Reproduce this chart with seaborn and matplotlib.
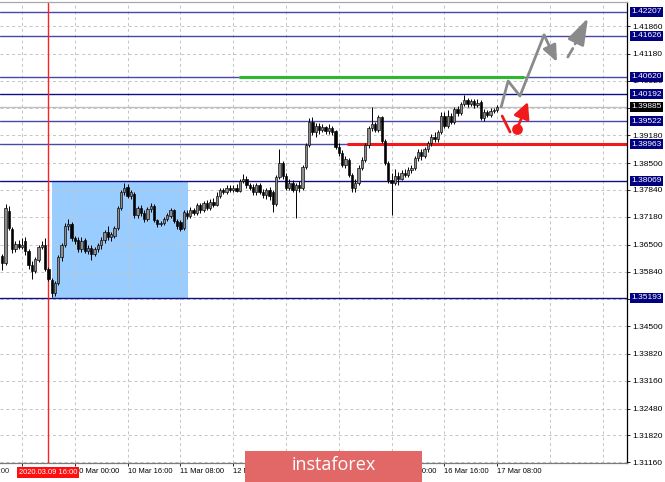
import matplotlib
matplotlib.use('Agg')
import matplotlib.pyplot as plt
import seaborn as sns
import numpy as np
import pandas as pd
from matplotlib.patches import Rectangle

# ---- candle data (H1 bars, index in hours from 9 Mar 08:00) ----
bar_hours = list(range(-6, 145))
opens = [
    1.3622, 1.3606, 1.3733, 1.3688, 1.3640, 1.3652,
    1.3645, 1.3660, 1.3635, 1.3600, 1.3585, 1.3612, 1.3645, 1.3650, 1.3590, 1.3563,
    1.3532, 1.3556, 1.3620, 1.3650, 1.3695, 1.3700, 1.3665, 1.3662, 1.3638, 1.3662,
    1.3635, 1.3642, 1.3628, 1.3640, 1.3648, 1.3662, 1.3680, 1.3668, 1.3670, 1.3690,
    1.3740, 1.3780, 1.3792, 1.3770, 1.3775, 1.3722, 1.3740, 1.3728, 1.3712, 1.3738,
    1.3744, 1.3710, 1.3700, 1.3702, 1.3712, 1.3720, 1.3735, 1.3708, 1.3705, 1.3690,
    1.3728, 1.3720, 1.3735, 1.3728, 1.3746, 1.3735, 1.3752, 1.3740, 1.3755, 1.3748,
    1.3770, 1.3785, 1.3780, 1.3790, 1.3784, 1.3790, 1.3782, 1.3805, 1.3812, 1.3795,
    1.3792, 1.3778, 1.3795, 1.3780, 1.3772, 1.3785, 1.3780, 1.3750, 1.3815, 1.3850,
    1.3818, 1.3790, 1.3800, 1.3785, 1.3795, 1.3790, 1.3840, 1.3895, 1.3950, 1.3925,
    1.3940, 1.3930, 1.3938, 1.3928, 1.3935, 1.3928, 1.3890, 1.3875, 1.3845, 1.3858,
    1.3820, 1.3790, 1.3800, 1.3838, 1.3858, 1.3895, 1.3935, 1.3945, 1.3930, 1.3962,
    1.3905, 1.3850, 1.3808, 1.3800, 1.3818, 1.3812, 1.3825, 1.3820, 1.3832, 1.3838,
    1.3862, 1.3878, 1.3868, 1.3885, 1.3898, 1.3915, 1.3908, 1.3925, 1.3965, 1.3940,
    1.3965, 1.3950, 1.3982, 1.3972, 1.3995, 1.4005, 1.3995, 1.4002, 1.3992, 1.4000,
    1.3960, 1.3975, 1.3968, 1.3978, 1.3980,
]
highs = [
    1.3626, 1.3750, 1.3745, 1.3692, 1.3660, 1.3662,
    1.3665, 1.3668, 1.3640, 1.3610, 1.3620, 1.3650, 1.3660, 1.3665, 1.3595, 1.3568,
    1.3560, 1.3625, 1.3655, 1.3702, 1.3712, 1.3705, 1.3672, 1.3668, 1.3668, 1.3665,
    1.3650, 1.3650, 1.3645, 1.3655, 1.3668, 1.3685, 1.3695, 1.3680, 1.3695, 1.3745,
    1.3785, 1.3800, 1.3798, 1.3785, 1.3780, 1.3745, 1.3748, 1.3735, 1.3742, 1.3752,
    1.3750, 1.3712, 1.3708, 1.3718, 1.3728, 1.3740, 1.3738, 1.3712, 1.3710, 1.3735,
    1.3735, 1.3742, 1.3740, 1.3752, 1.3752, 1.3758, 1.3760, 1.3762, 1.3765, 1.3778,
    1.3790, 1.3790, 1.3795, 1.3795, 1.3796, 1.3798, 1.3812, 1.3822, 1.3818, 1.3800,
    1.3798, 1.3800, 1.3800, 1.3786, 1.3790, 1.3792, 1.3785, 1.3820, 1.3885, 1.3855,
    1.3825, 1.3812, 1.3808, 1.3800, 1.3805, 1.3845, 1.3900, 1.3960, 1.3962, 1.3948,
    1.3948, 1.3945, 1.3942, 1.3945, 1.3942, 1.3932, 1.3900, 1.3882, 1.3868, 1.3862,
    1.3825, 1.3810, 1.3845, 1.3865, 1.3900, 1.3940, 1.3988, 1.3950, 1.3968, 1.3965,
    1.3910, 1.3855, 1.3825, 1.3835, 1.3828, 1.3832, 1.3835, 1.3840, 1.3845, 1.3868,
    1.3885, 1.3885, 1.3890, 1.3905, 1.3922, 1.3925, 1.3932, 1.3975, 1.3975, 1.3980,
    1.3972, 1.3988, 1.3990, 1.4000, 1.4017, 1.4010, 1.4008, 1.4006, 1.4008, 1.4005,
    1.3982, 1.3980, 1.3984, 1.3986, 1.3992,
]
lows = [
    1.3588, 1.3600, 1.3685, 1.3630, 1.3632, 1.3640,
    1.3640, 1.3625, 1.3590, 1.3565, 1.3580, 1.3608, 1.3640, 1.3585, 1.3560, 1.3522,
    1.3525, 1.3550, 1.3610, 1.3645, 1.3685, 1.3660, 1.3652, 1.3632, 1.3632, 1.3630,
    1.3628, 1.3612, 1.3622, 1.3632, 1.3640, 1.3655, 1.3662, 1.3660, 1.3665, 1.3685,
    1.3735, 1.3772, 1.3765, 1.3762, 1.3715, 1.3715, 1.3720, 1.3706, 1.3708, 1.3730,
    1.3705, 1.3694, 1.3695, 1.3698, 1.3708, 1.3715, 1.3702, 1.3688, 1.3684, 1.3686,
    1.3712, 1.3715, 1.3722, 1.3722, 1.3728, 1.3730, 1.3735, 1.3735, 1.3742, 1.3744,
    1.3765, 1.3775, 1.3775, 1.3778, 1.3780, 1.3778, 1.3778, 1.3800, 1.3790, 1.3783,
    1.3772, 1.3772, 1.3774, 1.3765, 1.3762, 1.3760, 1.3730, 1.3745, 1.3810, 1.3812,
    1.3785, 1.3783, 1.3780, 1.3715, 1.3780, 1.3785, 1.3835, 1.3890, 1.3918, 1.3915,
    1.3922, 1.3925, 1.3920, 1.3922, 1.3918, 1.3885, 1.3868, 1.3840, 1.3838, 1.3815,
    1.3780, 1.3778, 1.3795, 1.3832, 1.3852, 1.3888, 1.3928, 1.3925, 1.3925, 1.3900,
    1.3845, 1.3800, 1.3722, 1.3795, 1.3795, 1.3808, 1.3815, 1.3815, 1.3826, 1.3832,
    1.3855, 1.3858, 1.3862, 1.3878, 1.3892, 1.3902, 1.3902, 1.3920, 1.3935, 1.3935,
    1.3945, 1.3945, 1.3965, 1.3968, 1.3990, 1.3988, 1.3990, 1.3985, 1.3988, 1.3955,
    1.3952, 1.3962, 1.3964, 1.3972, 1.3975,
]
closes = [
    1.3605, 1.3740, 1.3690, 1.3638, 1.3652, 1.3645,
    1.3650, 1.3635, 1.3600, 1.3585, 1.3615, 1.3645, 1.3650, 1.3590, 1.3565, 1.3532,
    1.3556, 1.3620, 1.3650, 1.3695, 1.3700, 1.3665, 1.3660, 1.3638, 1.3660, 1.3635,
    1.3642, 1.3628, 1.3640, 1.3650, 1.3662, 1.3680, 1.3668, 1.3675, 1.3690, 1.3740,
    1.3780, 1.3790, 1.3770, 1.3778, 1.3722, 1.3740, 1.3728, 1.3712, 1.3738, 1.3744,
    1.3710, 1.3700, 1.3702, 1.3712, 1.3722, 1.3735, 1.3708, 1.3695, 1.3688, 1.3730,
    1.3720, 1.3735, 1.3728, 1.3748, 1.3735, 1.3752, 1.3740, 1.3755, 1.3748, 1.3770,
    1.3785, 1.3780, 1.3790, 1.3784, 1.3790, 1.3782, 1.3805, 1.3812, 1.3795, 1.3790,
    1.3778, 1.3795, 1.3780, 1.3772, 1.3785, 1.3770, 1.3750, 1.3815, 1.3850, 1.3818,
    1.3790, 1.3800, 1.3785, 1.3795, 1.3790, 1.3840, 1.3895, 1.3950, 1.3925, 1.3940,
    1.3930, 1.3938, 1.3928, 1.3935, 1.3925, 1.3890, 1.3875, 1.3845, 1.3860, 1.3820,
    1.3790, 1.3800, 1.3838, 1.3858, 1.3895, 1.3935, 1.3945, 1.3930, 1.3962, 1.3905,
    1.3850, 1.3808, 1.3800, 1.3818, 1.3812, 1.3825, 1.3820, 1.3832, 1.3838, 1.3862,
    1.3878, 1.3868, 1.3885, 1.3898, 1.3915, 1.3908, 1.3925, 1.3965, 1.3940, 1.3965,
    1.3950, 1.3982, 1.3972, 1.3995, 1.4005, 1.3995, 1.4002, 1.3992, 1.3998, 1.3960,
    1.3975, 1.3968, 1.3978, 1.3980, 1.3988,
]

# ---- axis labels / levels ----
grid_levels = [1.41860, 1.41180, 1.40520, 1.39850, 1.39180, 1.38500, 1.37840,
               1.37180, 1.36500, 1.35840, 1.35170, 1.34500, 1.33820, 1.33160,
               1.32480, 1.31820, 1.31160]
hidden_levels = [1.39850, 1.35170]   # covered by the price boxes
time_hours = [0, 16, 32, 48, 64, 80, 96, 112, 128, 144]
# labels fully under the red marker box or the watermark are left blank
time_labels = ['', '10 Mar 00:00', '10 Mar 16:00', '11 Mar 08:00',
               '12 Mar 00:00', '', '', '16 Mar 00:00',
               '16 Mar 16:00', '17 Mar 08:00']
grid_hours = [0, 16, 32, 48, 64, 80, 96, 112, 128, 144, 160, 176]

dark_levels = [1.40192, 1.38069, 1.35193]
light_levels = [1.42207, 1.41626, 1.40620, 1.39522, 1.38963]
current_price = 1.39885

marker_hour = 8
marker_label = '2020.03.09 16:00'
zone_hours = (9.1, 50.3)
zone_prices = (1.35193, 1.38069)
green_hours = (66.1, 151.8)
green_price = 1.40620
red_hours = (98.8, 190)
red_price = 1.38963

# forecast sketches
gray_path_hours = [145.2, 147.3, 150.9, 158.2]
gray_path_prices = [1.39874, 1.40512, 1.40144, 1.41640]
gray_arrow_end = (162.1, 1.40978)
gray_dash_hours = [165.4, 166.9]
gray_dash_prices = [1.41100, 1.41310]
gray_head = ((167.6, 1.41420), (171.5, 1.42057))
red_stroke_hours = [145.5, 147.9]
red_stroke_prices = [1.39653, 1.39261]
red_dot = (150.0, 1.39334)
red_arrow_end = (153.3, 1.39997)

# ---- figure ----
sns.set_style('white')
plt.rcParams['font.family'] = ['Liberation Sans', 'DejaVu Sans']

fig = plt.figure(figsize=(6.65, 4.82), dpi=100)
ax = fig.add_axes([0, 19 / 482, 627 / 665, 461 / 482])
ax.set_xlim(-6.667, 183.33)
ax.set_ylim(1.31144, 1.42449)

fs = 6
fs_x = 5.4
gray_grid = '#c4c4c4'

# blue zone
ax.add_patch(Rectangle((zone_hours[0], zone_prices[0]), zone_hours[1] - zone_hours[0],
                       zone_prices[1] - zone_prices[0], fc='#99CCFF', ec='none', zorder=0.5))

# grid
for lvl in grid_levels:
    ax.axhline(lvl, color=gray_grid, lw=0.7, ls=(0, (3, 3)), zorder=1)
for h in grid_hours:
    ax.axvline(h, color=gray_grid, lw=0.7, ls=(0, (3, 3)), zorder=1)

# levels
ax.axhline(current_price, color='#c0c0c0', lw=1, zorder=1.5)
for lvl in dark_levels:
    ax.axhline(lvl, color='#101080', lw=1, zorder=2)
for lvl in light_levels:
    ax.axhline(lvl, color='#4848a8', lw=1, zorder=2)
ax.plot(green_hours, [green_price, green_price], color='#2DB82D', lw=2.2, zorder=2.5)
ax.plot(red_hours, [red_price, red_price], color='#F01A1A', lw=2.2, zorder=2.5)
ax.axvline(marker_hour, color='#FF2020', lw=1, zorder=2.5)

# candles
df = pd.DataFrame({'h': bar_hours, 'o': opens, 'hi': highs, 'lo': lows, 'c': closes})
up = df['c'] >= df['o']
ax.vlines(df['h'], df['lo'], df['hi'], color='black', lw=0.7, zorder=3)
body_low = np.minimum(df['o'], df['c'])
body_h = np.maximum(np.abs(df['c'] - df['o']), 0.00008)
ax.bar(df['h'], body_h, bottom=body_low, width=0.72,
       color=np.where(up, '#8c8c8c', '#000000'), edgecolor='black', lw=0.45, zorder=4)

# forecast: gray zigzag
fc_df = pd.DataFrame({'h': gray_path_hours, 'p': gray_path_prices})
sns.lineplot(data=fc_df, x='h', y='p', sort=False, estimator=None, color='#8a8a8a',
             lw=2, ax=ax, zorder=5)
ax.annotate('', xy=gray_arrow_end, xytext=(gray_path_hours[-1], gray_path_prices[-1]),
            arrowprops=dict(arrowstyle='-|>,head_length=0.7,head_width=0.3', color='#8a8a8a',
                            lw=2, mutation_scale=14, shrinkA=0, shrinkB=0), zorder=5)
ax.plot(gray_dash_hours, gray_dash_prices, color='#8a8a8a', lw=2, zorder=5)
ax.annotate('', xy=gray_head[1], xytext=gray_head[0],
            arrowprops=dict(arrowstyle='-|>,head_length=0.9,head_width=0.3', color='#8a8a8a',
                            lw=2, mutation_scale=18, shrinkA=0, shrinkB=0), zorder=5)

# forecast: red
ax.plot(red_stroke_hours, red_stroke_prices, color='#F01A1A', lw=2, zorder=5)
ax.scatter([red_dot[0]], [red_dot[1]], s=45, color='#F01A1A', zorder=6)
ax.annotate('', xy=red_arrow_end, xytext=red_dot,
            arrowprops=dict(arrowstyle='-|>,head_length=0.7,head_width=0.35', color='#F01A1A',
                            lw=2, mutation_scale=14, shrinkA=0, shrinkB=0), zorder=6)

# axes styling
ax.yaxis.tick_right()
ax.set_yticks(grid_levels)
ax.set_yticklabels(['' if v in hidden_levels else f'{v:.5f}' for v in grid_levels])
ax.set_xticks(time_hours)
ax.set_xticklabels(time_labels)
for lab in ax.get_xticklabels():
    lab.set_ha('left')
ax.tick_params(axis='both', length=2.2, width=0.6, pad=1.6, colors='black')
ax.tick_params(axis='y', labelsize=fs, direction='out', right=True, left=False)
ax.tick_params(axis='x', labelsize=fs_x, direction='out', bottom=True)
ax.spines['left'].set_visible(False)
ax.spines['top'].set_color('#a8a8a8')
ax.spines['bottom'].set_color('#7a7a7a')
ax.spines['right'].set_color('black')
for s in ['top', 'bottom', 'right']:
    ax.spines[s].set_linewidth(0.9)
ax.set_xlabel('')
ax.set_ylabel('')

# clipped time label at far left
ax.annotate('9 Mar 00:00', xy=(-16, 0), xycoords=('data', 'axes fraction'),
            xytext=(0, -3.8), textcoords='offset points', ha='left', va='top',
            fontsize=fs_x, annotation_clip=False)

# red time marker label
ax.annotate(marker_label, xy=(marker_hour, 0), xycoords=('data', 'axes fraction'),
            xytext=(0, -4.1), textcoords='offset points', ha='center', va='top',
            fontsize=fs_x, color='white', annotation_clip=False, zorder=20,
            bbox=dict(boxstyle='square,pad=0.25', fc='#FF1010', ec='none'))

# price labels on right axis
for lvl in dark_levels + light_levels:
    ax.annotate(f'{lvl:.5f}', xy=(1, lvl), xycoords=('axes fraction', 'data'),
                xytext=(3.2, 0), textcoords='offset points', ha='left', va='center',
                fontsize=fs, color='white', annotation_clip=False, zorder=20,
                bbox=dict(boxstyle='square,pad=0.18', fc='#000080', ec='none'))
ax.annotate(f'{current_price:.5f}', xy=(1, current_price), xycoords=('axes fraction', 'data'),
            xytext=(3.2, 0), textcoords='offset points', ha='left', va='center',
            fontsize=fs, color='white', annotation_clip=False, zorder=20,
            bbox=dict(boxstyle='square,pad=0.18', fc='black', ec='none'))

# watermark
fig.add_artist(Rectangle((245 / 665, 0), 177 / 665, 31 / 482, transform=fig.transFigure,
                         fc='#E26868', ec='none', zorder=30))
fig.text(333.5 / 665, 16.5 / 482, 'instaforex', color='white', fontsize=13,
         family=['Open Sans', 'DejaVu Sans'], ha='center', va='center', zorder=31)

fig.savefig('out.png', dpi=100)
